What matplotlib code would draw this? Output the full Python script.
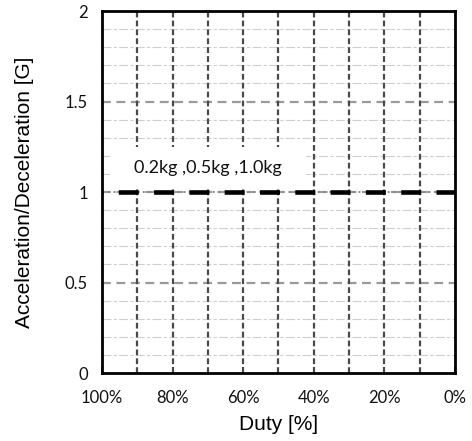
import matplotlib
matplotlib.use("Agg")
import matplotlib.pyplot as plt
from matplotlib.patches import Rectangle
import numpy as np

# Duty sweep (percent) and the acceleration for each payload
duty = [100, 0]
accel_02kg = [1.0, 1.0]
accel_05kg = [1.0, 1.0]
accel_10kg = [1.0, 1.0]
series_label = "0.2kg ,0.5kg ,1.0kg"

x_ticks = [100, 80, 60, 40, 20, 0]
x_ticklabels = ["100%", "80%", "60%", "40%", "20%", "0%"]
y_ticks = [0, 0.5, 1, 1.5, 2]
y_ticklabels = ["0", "0.5", "1", "1.5", "2"]

fig = plt.figure(figsize=(4.72, 4.41), dpi=100)
ax = fig.add_axes([0.216, 0.154, 0.748, 0.821])

ax.set_xlim(100, 0)
ax.set_ylim(0, 2)

# minor horizontal grid every 0.1
for y in np.arange(0.1, 2.0, 0.1):
    if abs(y * 2 - round(y * 2)) < 1e-6:
        continue
    ax.axhline(y, color="#cfcfcf", lw=0.8, ls=(0, (8, 2, 3, 2)), zorder=1)
# major horizontal grid every 0.5
for y in [0.5, 1.0, 1.5]:
    ax.axhline(y, color="#9a9a9a", lw=1.6, ls=(0, (4, 2.5)), zorder=1.5)
# vertical grid every 10 %
for x in range(10, 100, 10):
    ax.axvline(x, color="#4a4a4a", lw=1.6, ls=(0, (2.6, 1.4)), zorder=2)

# white label box for the series name
ax.add_patch(Rectangle((42.2, 1.022), 55.5, 0.227, fc="white", ec="none",
                       zorder=3))
ax.text(70, 1.133, series_label, fontsize=13, family="Lato", color="#111111",
        va="center", ha="center", zorder=3.5)

lw = 3.3
def px(v):
    return v * 0.72 / lw

ax.plot(duty, accel_02kg, color="#888888", lw=1.2, ls=(0, (1, 2.5)), zorder=4)
ax.plot(duty, accel_05kg, color="#888888", lw=1.2, ls=(0, (1, 2.5)), zorder=4)
ax.plot(duty, accel_10kg, color="black", lw=lw,
        ls=(px(19), (px(20), px(15.3))), zorder=5)

ax.set_xticks(x_ticks)
ax.set_xticklabels(x_ticklabels, family="Lato", fontsize=12, color="#111111")
ax.set_yticks(y_ticks)
ax.set_yticklabels(y_ticklabels, family="Lato", fontsize=12, color="#111111")
ax.tick_params(axis="x", direction="in", length=4, width=1.2, pad=12)
ax.tick_params(axis="y", direction="in", length=0, pad=10)

for s in ax.spines.values():
    s.set_linewidth(2)
    s.set_color("black")
    s.set_zorder(6)

ax.set_xlabel("Duty [%]", family="Liberation Sans", fontsize=15, labelpad=7)
ax.set_ylabel("Acceleration/Deceleration [G]", family="Liberation Sans",
              fontsize=15, labelpad=22)

fig.savefig("out.png", dpi=100)
